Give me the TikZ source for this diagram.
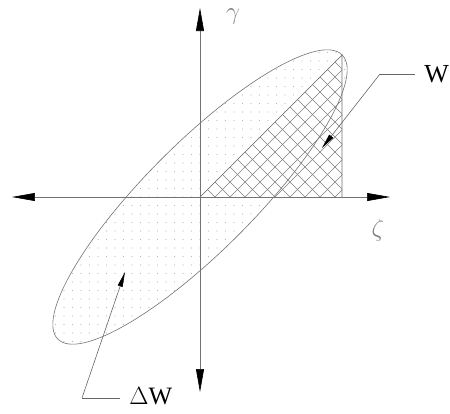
\documentclass[tikz,border=0pt]{standalone}
\usepackage{fontspec}
\newfontfamily\labelfont{Liberation Serif}
\usetikzlibrary{arrows.meta}
\begin{document}
\begin{tikzpicture}[x=1pt,y=1pt, line width=0.6pt,
  axis/.style={draw=black!55, -{Triangle[length=23pt,width=8pt,black]}},
  leader/.style={draw=black!60, -{Triangle[length=15pt,width=5pt,black]}},
  curve/.style={draw=black!55},
  hatch/.style={draw=black!50, line width=0.5pt}]
\useasboundingbox (-200,-216) rectangle (250,197);
\coordinate (O) at (0,0);
\coordinate (P) at (142,142);
\coordinate (Q) at (142,0);
% dotted loop
\begin{scope}
  \clip[rotate=45] (O) ellipse[x radius=201pt, y radius=54pt];
  \foreach \i in {-19,...,19}
    \foreach \j in {-19,...,19}
      \fill[black!28] (\i*8.5,\j*8.5) circle (0.55pt);
\end{scope}
% stored energy W
\fill[white] (O) -- (P) -- (Q) -- cycle;
\begin{scope}
  \clip (O) -- (P) -- (Q) -- cycle;
  \foreach \k in {-10,...,20} {
    \draw[hatch] (\k*15,0) ++(-160,-160) -- ++(320,320);
    \draw[hatch] (\k*15,0) ++(-160,160) -- ++(320,-320);
  }
\end{scope}
\draw[curve, rotate=45] (O) ellipse[x radius=201pt, y radius=54pt];
\draw[curve] (O) -- (P) -- (Q);
% axes
\coordinate (xl) at (-188,0);
\coordinate (xr) at (190,0);
\coordinate (yt) at (0,189);
\coordinate (yb) at (0,-195);
\draw[axis] (O) -- (xl);
\draw[axis] (O) -- (xr);
\draw[axis] (O) -- (yt);
\draw[axis] (O) -- (yb);
\node[text=black!50, font=\fontsize{24}{24}\selectfont] (gam) at (33,180) {$\gamma$};
\node[text=black!50, font=\fontsize{24}{24}\selectfont] (zet) at (178,-33) {$\zeta$};
% labels
\node[anchor=west, inner sep=0pt, font=\labelfont\fontsize{26}{26}\selectfont] (W) at (224,123) {W};
\node[anchor=west, inner sep=0pt, font=\labelfont\fontsize{25}{25}\selectfont] (dW) at (-71,-199) {$\Delta$W};
\coordinate (wb) at (180,123);
\coordinate (wt) at (122,49);
\coordinate (db) at (-118,-201);
\coordinate (dt) at (-75,-75);
\draw[draw=black!60] (W.west) ++(-9,0) -- (wb);
\draw[leader] (wb) -- (wt);
\draw[draw=black!60] (dW.west) ++(-9,-2) -- (db);
\draw[leader] (db) -- (dt);
\end{tikzpicture}
\end{document}
